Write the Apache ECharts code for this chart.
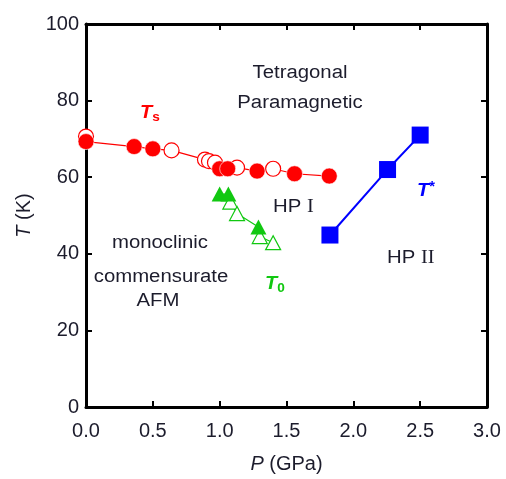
<!DOCTYPE html>
<html>
<head>
<meta charset="utf-8">
<script src="https://cdn.jsdelivr.net/npm/echarts@6/dist/echarts.min.js"></script>
<style>
html,body{margin:0;padding:0;background:#fff;}
#c{width:506px;height:479px;}
</style>
</head>
<body>
<div id="c"></div>
<script>
// Ts (red) – filled circles
var tsFilledP = [0.0, 0.36, 0.50, 1.00, 1.06, 1.28, 1.56, 1.82];
var tsFilledT = [69.3, 68.0, 67.4, 62.2, 62.2, 61.6, 60.9, 60.3];
// Ts (red) – open circles
var tsOpenP = [0.0, 0.64, 0.89, 0.92, 0.965, 1.13, 1.40];
var tsOpenT = [70.6, 67.0, 64.6, 64.2, 63.8, 62.5, 62.2];
// T0 (green) – filled triangles
var t0FilledP = [1.00, 1.065, 1.29];
var t0FilledT = [55.6, 55.6, 47.0];
// T0 (green) – open triangles
var t0OpenP = [1.08, 1.13, 1.30, 1.40];
var t0OpenT = [53.5, 50.5, 44.5, 42.9];
// T* (blue) squares
var tStarP = [1.825, 2.256, 2.50];
var tStarT = [44.9, 62.0, 71.0];
// axis ticks
var xTicks = ['0.0','0.5','1.0','1.5','2.0','2.5','3.0'];
var yTicks = ['0','20','40','60','80','100'];

function pairs(px, py){ return px.map(function(p,i){ return [p, py[i]]; }); }
function sortedLine(a, b){
  return a.concat(b).sort(function(u,v){ return u[0]-v[0] || v[1]-u[1]; });
}
var tsLine = sortedLine(pairs(tsFilledP,tsFilledT), pairs(tsOpenP,tsOpenT));
var t0Line = sortedLine(pairs(t0FilledP,t0FilledT), pairs(t0OpenP,t0OpenT));

var RED = '#ff0000', GREEN = '#11c811', BLUE = '#0000ff', TXT = '#1c1c2c';
var FONT = 'Liberation Sans, Arial, sans-serif';
var SX = 1.13; // horizontal stretch of annotation text

var chart = echarts.init(document.getElementById('c'), null, {renderer:'canvas'});

var axisLine = {show:true, onZero:false, lineStyle:{color:'#000', width:3}};
var axisTick = {show:true, inside:true, length:6, lineStyle:{color:'#000', width:2}};

function ann(text, x, y){
  return {type:'text', x:x, y:y, scaleX:SX, style:{text:text, fill:TXT, font:'18px '+FONT,
    align:'center', verticalAlign:'middle'}};
}

var option = {
  animation:false,
  backgroundColor:'#fff',
  grid:{left:86, right:19, top:24, bottom:66, containLabel:false},
  xAxis:[{
    type:'value', min:0, max:3, interval:0.5, position:'bottom',
    axisLine:axisLine, axisTick:axisTick, splitLine:{show:false},
    axisLabel:{color:TXT, fontSize:20, fontFamily:FONT, margin:14,
      formatter:function(v){ return xTicks[Math.round(v/0.5)]; }},
    name:'{i|P} (GPa)', nameLocation:'middle', nameGap:47,
    nameTextStyle:{color:TXT, fontSize:20, fontFamily:FONT,
      rich:{i:{fontStyle:'italic', fontSize:20, fontFamily:FONT, color:TXT}}}
  },{
    type:'value', min:0, max:3, interval:0.5, position:'top',
    axisLine:axisLine, axisTick:axisTick, splitLine:{show:false}, axisLabel:{show:false}
  }],
  yAxis:[{
    type:'value', min:0, max:100, interval:20, position:'left',
    axisLine:axisLine, axisTick:axisTick, splitLine:{show:false},
    axisLabel:{color:TXT, fontSize:20, fontFamily:FONT, margin:7,
      formatter:function(v){ return yTicks[Math.round(v/20)]; }},
    name:'{i|T} (K)', nameLocation:'middle', nameGap:50, nameRotate:90,
    nameTextStyle:{color:TXT, fontSize:20, fontFamily:FONT,
      rich:{i:{fontStyle:'italic', fontSize:20, fontFamily:FONT, color:TXT}}}
  },{
    type:'value', min:0, max:100, interval:20, position:'right',
    axisLine:axisLine, axisTick:axisTick, splitLine:{show:false}, axisLabel:{show:false}
  }],
  series:[
    {type:'line', data:tsLine, symbol:'none', lineStyle:{color:RED, width:1.2}, z:2},
    {type:'line', data:t0Line, symbol:'none', lineStyle:{color:GREEN, width:1.2}, z:2},
    {type:'line', data:pairs(tStarP,tStarT), symbol:'rect', symbolSize:17,
      lineStyle:{color:BLUE, width:2}, itemStyle:{color:BLUE}, z:3},
    {type:'scatter', data:pairs(tsOpenP,tsOpenT), symbol:'circle', symbolSize:15,
      itemStyle:{color:'#fff', borderColor:RED, borderWidth:1.2, opacity:1}, z:3},
    {type:'scatter', data:pairs(tsFilledP,tsFilledT), symbol:'circle', symbolSize:16,
      itemStyle:{color:RED, borderColor:'#fff', borderWidth:0.6, opacity:1}, z:4},
    {type:'scatter', data:pairs(t0OpenP,t0OpenT), symbol:'triangle', symbolSize:[15,14],
      itemStyle:{color:'#fff', borderColor:GREEN, borderWidth:1.2, opacity:1}, z:3},
    {type:'scatter', data:pairs(t0FilledP,t0FilledT), symbol:'triangle', symbolSize:[16,15],
      itemStyle:{color:GREEN, opacity:1}, z:4}
  ],
  graphic:[
    ann('Tetragonal', 300, 73),
    ann('Paramagnetic', 300, 103),
    ann('monoclinic', 160, 243),
    ann('commensurate', 161, 277),
    ann('AFM', 158, 301),
    {type:'text', x:140, y:101, scaleX:1.05, style:{text:'{t|T}{s|s}', rich:{
      t:{fill:RED, font:'italic bold 19px '+FONT},
      s:{fill:RED, font:'bold 13px '+FONT, padding:[10,0,0,0]}}}},
    {type:'text', x:273, y:198, scaleX:SX, style:{text:'{a|HP }{b|I}', rich:{
      a:{fill:TXT, font:'18px '+FONT},
      b:{fill:TXT, font:'18px Liberation Serif, serif'}}}},
    {type:'text', x:417, y:180, scaleX:1.05, style:{text:'{t|T}{s|*}', rich:{
      t:{fill:BLUE, font:'italic bold 19px '+FONT},
      s:{fill:BLUE, font:'bold 14px '+FONT, padding:[0,0,8,0]}}}},
    {type:'text', x:387, y:249, scaleX:SX, style:{text:'{a|HP }{b|II}', rich:{
      a:{fill:TXT, font:'18px '+FONT},
      b:{fill:TXT, font:'18px Liberation Serif, serif'}}}},
    {type:'text', x:265, y:272, scaleX:1.05, style:{text:'{t|T}{s|0}', rich:{
      t:{fill:GREEN, font:'italic bold 19px '+FONT},
      s:{fill:GREEN, font:'bold 13px '+FONT, padding:[10,0,0,0]}}}}
  ]
};
chart.setOption(option);
</script>
</body>
</html>
